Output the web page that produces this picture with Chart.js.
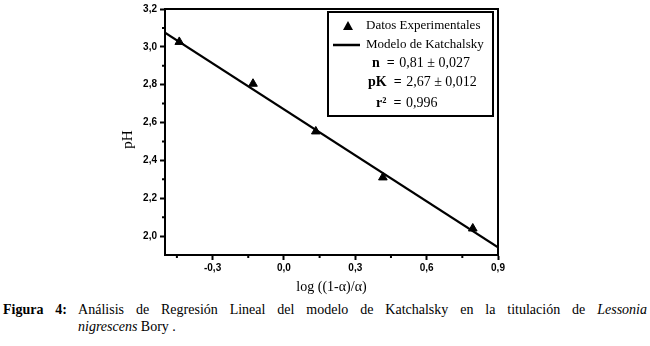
<!DOCTYPE html>
<html>
<head>
<meta charset="utf-8">
<script src="https://cdn.jsdelivr.net/npm/chart.js@4/dist/chart.umd.min.js"></script>
<style>
    body { margin: 0; background: #fff; }
    #wrap { position: relative; width: 650px; height: 346px; overflow: hidden; }
    #chartCanvas { position: absolute; left: 0; top: 0; }
    #caption { position: absolute; left: 3px; top: 301px; width: 644px; font-family: "Liberation Serif", "Times New Roman", serif; font-size: 14px; line-height: 17px; color: #000; }
    #caption .l1 { text-align: justify; text-align-last: justify; }
    #caption .l2 { padding-left: 75px; }
</style>
</head>
<body>
<div id="wrap">
    <canvas id="chartCanvas" width="650" height="300"></canvas>
    <div id="caption">
        <div class="l1"><b>Figura 4:</b> Análisis de Regresión Lineal del modelo de Katchalsky en la titulación de <i>Lessonia</i></div>
        <div class="l2"><i>nigrescens</i> Bory .</div>
    </div>
</div>
<script>
const xExp = [-0.44, -0.13, 0.134, 0.416, 0.794];
const yExp = [3.026, 2.805, 2.553, 2.31, 2.04];

// fitted line (Katchalsky model) end points
const fitX = [-0.5, 0.9];
const fitY = [3.075, 1.94];

const xMajor = [-0.3, 0, 0.3, 0.6, 0.9];
const xMinor = [-0.45, -0.15, 0.15, 0.45, 0.75];
const yMajor = [2.0, 2.2, 2.4, 2.6, 2.8, 3.0, 3.2];
const yMinor = [2.1, 2.3, 2.5, 2.7, 2.9, 3.1];

const legendLabels = ['Datos Experimentales', 'Modelo de Katchalsky'];
const statLabels = ['n  =', 'pK  =', 'r\u00B2  ='];
const statValues = ['0,81 \u00B1 0,027', '2,67 \u00B1 0,012', '0,996'];

const serif = '"Liberation Serif", "Times New Roman", serif';

function fmt(v) {
    return v.toFixed(1).replace('.', ',');
}

const frameAndExtras = {
    id: 'frameAndExtras',
    afterDraw(chart) {
        const ctx = chart.ctx;
        const area = chart.chartArea;
        const xs = chart.scales.x;
        const ys = chart.scales.y;
        ctx.save();
        ctx.strokeStyle = '#000';
        ctx.lineWidth = 2;
        ctx.strokeRect(area.left, area.top, area.right - area.left, area.bottom - area.top);

        // minor ticks
        ctx.beginPath();
        xMinor.forEach(v => {
            const px = xs.getPixelForValue(v);
            ctx.moveTo(px, area.bottom);
            ctx.lineTo(px, area.bottom + 3);
        });
        yMinor.forEach(v => {
            const py = ys.getPixelForValue(v);
            ctx.moveTo(area.left, py);
            ctx.lineTo(area.left - 3, py);
        });
        ctx.stroke();

        // legend box
        const bx = 328, by = 12, bw = 165, bh = 104;
        ctx.fillStyle = '#fff';
        ctx.fillRect(bx, by, bw, bh);
        ctx.lineWidth = 2;
        ctx.strokeRect(bx, by, bw, bh);

        ctx.fillStyle = '#000';
        ctx.beginPath();
        ctx.moveTo(348, 21);
        ctx.lineTo(353, 30);
        ctx.lineTo(343, 30);
        ctx.closePath();
        ctx.fill();

        ctx.lineWidth = 2.5;
        ctx.beginPath();
        ctx.moveTo(333, 45);
        ctx.lineTo(360, 45);
        ctx.stroke();

        ctx.textBaseline = 'middle';
        ctx.font = '13px ' + serif;
        ctx.fillText(legendLabels[0], 366, 26);
        ctx.fillText(legendLabels[1], 366, 45);

        const statX = [372, 368, 376];
        const statY = [63, 82, 103];
        for (let i = 0; i < statLabels.length; i++) {
            ctx.font = 'bold 14px ' + serif;
            ctx.fillText(statLabels[i], statX[i], statY[i]);
            const w = ctx.measureText(statLabels[i] + ' ').width;
            ctx.font = '14px ' + serif;
            ctx.fillText(statValues[i], statX[i] + w + 1, statY[i]);
        }
        ctx.restore();
    }
};

function initChart() {
    Chart.defaults.font.family = '"Liberation Sans", Arial, sans-serif';
    Chart.defaults.color = '#000';

    let chartEl = document.getElementById('chartCanvas');
    let chart = new Chart(chartEl, {
        type: 'scatter',
        data: {
            datasets: [
                {
                    label: legendLabels[0],
                    data: xExp.map((x, i) => ({ x: x, y: yExp[i] })),
                    pointStyle: 'triangle',
                    pointRadius: 5,
                    pointBackgroundColor: '#000',
                    pointBorderColor: '#000',
                    pointBorderWidth: 1
                },
                {
                    label: legendLabels[1],
                    type: 'line',
                    data: fitX.map((x, i) => ({ x: x, y: fitY[i] })),
                    borderColor: '#000',
                    borderWidth: 2.2,
                    pointRadius: 0,
                    fill: false
                }
            ]
        },
        options: {
            responsive: false,
            animation: false,
            layout: {
                padding: { left: 118, right: 152, top: 8, bottom: 0 }
            },
            plugins: {
                legend: { display: false },
                tooltip: { enabled: false }
            },
            scales: {
                x: {
                    type: 'linear',
                    min: -0.5,
                    max: 0.9,
                    afterBuildTicks: scale => { scale.ticks = xMajor.map(v => ({ value: v })); },
                    afterFit: scale => { scale.height = 45; },
                    ticks: {
                        callback: v => fmt(v),
                        font: { size: 10, weight: 'bold' },
                        padding: 2,
                        maxRotation: 0
                    },
                    grid: { drawOnChartArea: false, drawTicks: true, tickLength: 5, tickWidth: 2, tickColor: '#000' },
                    border: { display: true, color: '#000', width: 2 },
                    title: {
                        display: true,
                        text: 'log ((1-\u03B1)/\u03B1)',
                        font: { family: serif, size: 14 },
                        padding: { top: 0, bottom: 4 }
                    }
                },
                y: {
                    type: 'linear',
                    min: 1.9,
                    max: 3.2,
                    afterBuildTicks: scale => { scale.ticks = yMajor.map(v => ({ value: v })); },
                    afterFit: scale => { scale.width = 47; },
                    ticks: {
                        callback: v => fmt(v),
                        font: { size: 10, weight: 'bold' },
                        padding: 3
                    },
                    grid: { drawOnChartArea: false, drawTicks: true, tickLength: 5, tickWidth: 2, tickColor: '#000' },
                    border: { display: true, color: '#000', width: 2 },
                    title: {
                        display: true,
                        text: 'pH\u00A0\u00A0\u00A0\u00A0',
                        font: { family: serif, size: 15 },
                        padding: { top: 1, bottom: 0 }
                    }
                }
            }
        },
        plugins: [frameAndExtras]
    });
}

window.addEventListener('load', initChart);
</script>
</body>
</html>
